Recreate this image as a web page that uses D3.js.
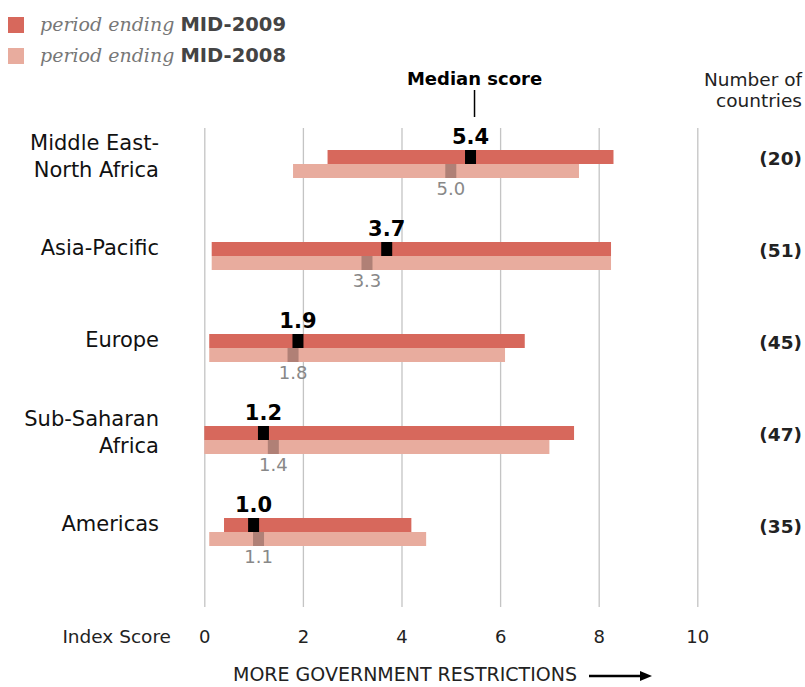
<!DOCTYPE html>
<html>
<head>
<meta charset="utf-8">
<title>Government restrictions index by region</title>
<script src="https://d3js.org/d3.v7.min.js"></script>
<style>
  body { margin: 0; background: #fff; }
  text { font-family: "DejaVu Sans", Verdana, sans-serif; }
</style>
</head>
<body>
<script>
// regions, each one a row of the chart (label split into lines)
var regions = ["Middle East-North Africa", "Asia-Pacific", "Europe", "Sub-Saharan Africa", "Americas"];
var regionLines = [["Middle East-", "North Africa"], ["Asia-Pacific"], ["Europe"], ["Sub-Saharan", "Africa"], ["Americas"]];

// range of country scores, period ending mid-2009
var min2009 = [2.5, 0.15, 0.1, 0, 0.4];
var max2009 = [8.3, 8.25, 6.5, 7.5, 4.2];
var median2009 = [5.4, 3.7, 1.9, 1.2, 1.0];

// range of country scores, period ending mid-2008
var min2008 = [1.8, 0.15, 0.1, 0, 0.1];
var max2008 = [7.6, 8.25, 6.1, 7.0, 4.5];
var median2008 = [5.0, 3.3, 1.8, 1.4, 1.1];

var countries = [20, 51, 45, 47, 35];
var ticks = [0, 2, 4, 6, 8, 10];

var col09 = "#d7685c", col08 = "#e8ac9e";
var mark09 = "#000000", mark08 = "#b08076";

var width = 805, height = 687;
var svg = d3.select("body").append("svg")
    .attr("width", width)
    .attr("height", height);

var x = d3.scaleLinear().domain([0, 10]).range([204.3, 697.3]);
// y gives the line where the 2009 bar meets the 2008 bar
var y = d3.scalePoint().domain(regions).range([164, 532]);
var barH = 14, markW = 11;

// legend
var legend = [["MID-2009", col09], ["MID-2008", col08]];
legend.forEach(function(l, i) {
  svg.append("rect").attr("x", 8).attr("y", 17 + i * 31)
      .attr("width", 16).attr("height", 16).attr("fill", l[1]);
  var t = svg.append("text").attr("x", 40).attr("y", 31 + i * 31)
      .attr("font-size", 19.5);
  t.append("tspan").text("period ending ")
      .attr("font-family", "'DejaVu Serif', Georgia, serif")
      .attr("font-size", 19)
      .attr("font-style", "italic").attr("fill", "#777");
  t.append("tspan").text(l[0]).attr("font-weight", "bold").attr("fill", "#444");
});

// grid + axis
var axis = d3.axisBottom(x).tickValues(ticks)
    .tickSizeInner(-(607 - 128)).tickSizeOuter(0).tickPadding(23);
var gAxis = svg.append("g").attr("transform", "translate(0,607)").call(axis);
gAxis.select(".domain").remove();
gAxis.selectAll(".tick line").attr("stroke", "#c4c4c4").attr("stroke-width", 1.3);
gAxis.selectAll(".tick text")
    .attr("font-family", "'DejaVu Sans', Verdana, sans-serif")
    .attr("font-size", 18).attr("fill", "#222");

svg.append("text").attr("x", 171).attr("y", 643)
    .attr("text-anchor", "end").attr("font-size", 18.5).attr("fill", "#222")
    .text("Index Score");

// header labels
svg.append("text").attr("x", x(median2009[0]) + 4).attr("y", 85)
    .attr("text-anchor", "middle").attr("font-size", 18).attr("font-weight", "bold")
    .text("Median score");
svg.append("line")
    .attr("x1", x(median2009[0]) + 4).attr("x2", x(median2009[0]) + 4)
    .attr("y1", 90).attr("y2", 117)
    .attr("stroke", "#000").attr("stroke-width", 1.5);

svg.append("text").attr("x", 802).attr("y", 86)
    .attr("text-anchor", "end").attr("font-size", 18.5).attr("fill", "#222")
    .text("Number of");
svg.append("text").attr("x", 802).attr("y", 107)
    .attr("text-anchor", "end").attr("font-size", 18.5).attr("fill", "#222")
    .text("countries");

// rows
var row = svg.selectAll(".row").data(regions).enter().append("g")
    .attr("class", "row");

row.append("rect")
    .attr("x", function(d, i) { return x(min2008[i]); })
    .attr("y", function(d) { return y(d); })
    .attr("width", function(d, i) { return x(max2008[i]) - x(min2008[i]); })
    .attr("height", barH).attr("fill", col08);

row.append("rect")
    .attr("x", function(d, i) { return x(min2009[i]); })
    .attr("y", function(d) { return y(d) - barH; })
    .attr("width", function(d, i) { return x(max2009[i]) - x(min2009[i]); })
    .attr("height", barH).attr("fill", col09);

row.append("rect")
    .attr("x", function(d, i) { return x(median2008[i]) - markW / 2; })
    .attr("y", function(d) { return y(d); })
    .attr("width", markW).attr("height", barH).attr("fill", mark08);

row.append("rect")
    .attr("x", function(d, i) { return x(median2009[i]) - markW / 2; })
    .attr("y", function(d) { return y(d) - barH; })
    .attr("width", markW).attr("height", barH).attr("fill", mark09);

// median values
row.append("text")
    .attr("x", function(d, i) { return x(median2009[i]); })
    .attr("y", function(d) { return y(d) - barH - 6; })
    .attr("text-anchor", "middle").attr("font-size", 21).attr("font-weight", "bold")
    .text(function(d, i) { return median2009[i].toFixed(1); });

row.append("text")
    .attr("x", function(d, i) { return x(median2008[i]); })
    .attr("y", function(d) { return y(d) + barH + 17; })
    .attr("text-anchor", "middle").attr("font-size", 18).attr("fill", "#888")
    .text(function(d, i) { return median2008[i].toFixed(1); });

// region labels
row.each(function(d, i) {
  var lines = regionLines[i];
  var t = d3.select(this).append("text")
      .attr("text-anchor", "end").attr("font-size", 21).attr("fill", "#111")
      .attr("y", y(d) - 8 - (lines.length - 1) * 13.5 + 7);
  lines.forEach(function(s, j) {
    t.append("tspan").attr("x", 159).attr("dy", j === 0 ? 0 : 27).text(s);
  });
});

// number of countries
row.append("text")
    .attr("x", 802).attr("y", function(d) { return y(d) + 1; })
    .attr("text-anchor", "end").attr("font-size", 18.5).attr("font-weight", "bold")
    .attr("fill", "#222")
    .text(function(d, i) { return "(" + countries[i] + ")"; });

// direction note
svg.append("text").attr("x", 233).attr("y", 681)
    .attr("font-size", 19).attr("fill", "#222")
    .text("MORE GOVERNMENT RESTRICTIONS");
svg.append("line").attr("x1", 589).attr("x2", 642).attr("y1", 676).attr("y2", 676)
    .attr("stroke", "#000").attr("stroke-width", 2.5);
svg.append("path").attr("d", "M640,671 L652,676 L640,681 Z").attr("fill", "#000");
</script>
</body>
</html>
